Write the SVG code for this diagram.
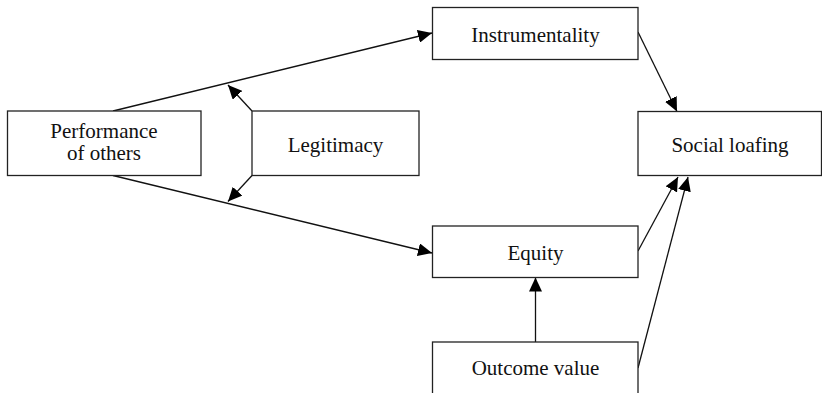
<svg xmlns="http://www.w3.org/2000/svg" width="822" height="393" viewBox="0 0 822 393">
  <style>
    .box { fill: #ffffff; stroke: #222222; stroke-width: 1.3; }
    .lbl { font-family: "Liberation Serif", "Times New Roman", serif; font-size: 21px; fill: #111111; text-anchor: middle; }
    .edge { fill: none; stroke: #111111; stroke-width: 1.3; marker-end: url(#arrow); }
  </style>
  <defs>
    <marker id="arrow" markerUnits="userSpaceOnUse" markerWidth="15" markerHeight="13" viewBox="0 0 15 13" refX="14" refY="6.5" orient="auto">
      <path d="M0,0 L14,6.5 L0,13 Z" fill="#000000"/>
    </marker>
  </defs>

  <g id="connectors">
    <line class="edge" x1="113" y1="111" x2="432" y2="33"/>
    <line class="edge" x1="113" y1="175.5" x2="432" y2="253"/>
    <line class="edge" x1="252" y1="111" x2="228" y2="85"/>
    <line class="edge" x1="252" y1="175.5" x2="228" y2="201.5"/>
    <line class="edge" x1="638" y1="32" x2="677" y2="111.5"/>
    <line class="edge" x1="638" y1="251" x2="678" y2="177"/>
    <line class="edge" x1="638" y1="368" x2="688" y2="177"/>
    <line class="edge" x1="535.5" y1="342" x2="535.5" y2="277.5"/>
  </g>

  <g id="performance">
    <rect class="box" x="7.5" y="111" width="193.5" height="64.5"/>
    <text class="lbl" x="104" y="137.5">Performance</text>
    <text class="lbl" x="104" y="160">of others</text>
  </g>
  <g id="legitimacy">
    <rect class="box" x="252" y="111" width="167" height="64.5"/>
    <text class="lbl" x="335.5" y="151.5">Legitimacy</text>
  </g>
  <g id="instrumentality">
    <rect class="box" x="432.5" y="7.5" width="205.5" height="52"/>
    <text class="lbl" x="535.5" y="41.5">Instrumentality</text>
  </g>
  <g id="social-loafing">
    <rect class="box" x="638" y="111.5" width="183.5" height="64"/>
    <text class="lbl" x="730" y="151.5">Social loafing</text>
  </g>
  <g id="equity">
    <rect class="box" x="432.5" y="226" width="205.5" height="51.5"/>
    <text class="lbl" x="535.5" y="259.5">Equity</text>
  </g>
  <g id="outcome-value">
    <rect class="box" x="432.5" y="342" width="205.5" height="60"/>
    <text class="lbl" x="535.5" y="375">Outcome value</text>
  </g>
</svg>
